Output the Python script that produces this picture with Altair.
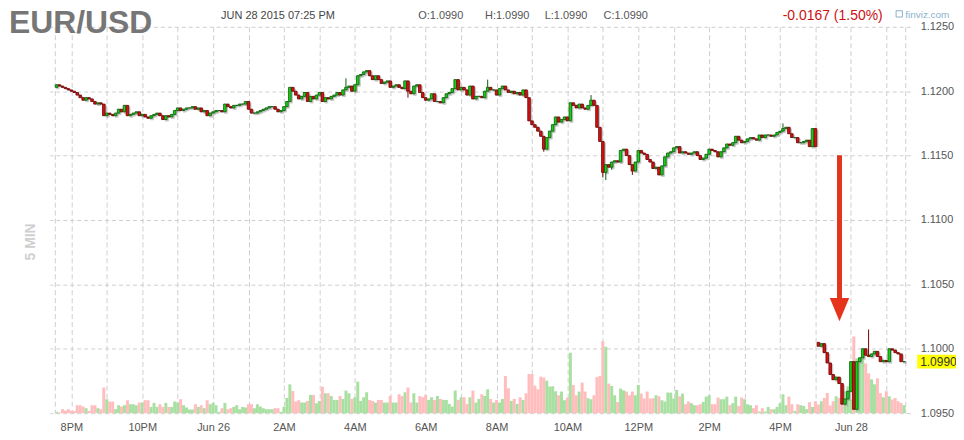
import altair as alt
import pandas as pd

# ---------------- data ----------------
tick_idx = [5, 29, 53, 77, 101, 125, 149, 173, 197, 221, 245, 269]
tick_labels = ["8PM", "10PM", "Jun 26", "2AM", "4AM", "6AM", "8AM", "10AM", "12PM", "2PM", "4PM", "Jun 28"]
grid_idx = [-0.6] + list(range(5, 288, 12)) + [287.4]
price_ticks = [1.0950, 1.1000, 1.1050, 1.1100, 1.1150, 1.1200, 1.1250]

first_open = 1.1203
sunday_open = 1.1005
sunday_start = 258

closes = [
    1.1205, 1.1204, 1.1203, 1.1202, 1.1201, 1.1200, 1.1199, 1.1197, 1.1195, 1.1193, 1.1195, 1.1194,
    1.1192, 1.1190, 1.1191, 1.1190, 1.1181, 1.1183, 1.1182, 1.1181, 1.1183, 1.1186, 1.1184, 1.1189,
    1.1181, 1.1182, 1.1183, 1.1184, 1.1181, 1.1182, 1.1180, 1.1179, 1.1181, 1.1182, 1.1183, 1.1181,
    1.1178, 1.1181, 1.1180, 1.1182, 1.1185, 1.1187, 1.1185, 1.1186, 1.1187, 1.1187, 1.1188, 1.1186,
    1.1187, 1.1184, 1.1185, 1.1181, 1.1183, 1.1184, 1.1185, 1.1185, 1.1184, 1.1190, 1.1188, 1.1187,
    1.1189, 1.1189, 1.1190, 1.1190, 1.1192, 1.1186, 1.1183, 1.1183, 1.1184, 1.1185, 1.1186, 1.1187,
    1.1188, 1.1188, 1.1186, 1.1184, 1.1185, 1.1188, 1.1192, 1.1203, 1.1200, 1.1197, 1.1194, 1.1196,
    1.1199, 1.1192, 1.1196, 1.1194, 1.1197, 1.1199, 1.1192, 1.1195, 1.1194, 1.1196, 1.1197, 1.1199,
    1.1197, 1.1201, 1.1203, 1.1204, 1.1200, 1.1205, 1.1212, 1.1213, 1.1215, 1.1216, 1.1212, 1.1209,
    1.1212, 1.1209, 1.1206, 1.1207, 1.1208, 1.1203, 1.1204, 1.1205, 1.1203, 1.1202, 1.1208, 1.1200,
    1.1198, 1.1204, 1.1205, 1.1199, 1.1195, 1.1193, 1.1194, 1.1198, 1.1192, 1.1192, 1.1191, 1.1195,
    1.1198, 1.1199, 1.1202, 1.1209, 1.1201, 1.1203, 1.1201, 1.1197, 1.1204, 1.1194, 1.1196, 1.1196,
    1.1195, 1.1200, 1.1203, 1.1201, 1.1201, 1.1197, 1.1202, 1.1204, 1.1201, 1.1199, 1.1200, 1.1198,
    1.1199, 1.1197, 1.1201, 1.1195, 1.1177, 1.1174, 1.1172, 1.1169, 1.1165, 1.1155, 1.1164, 1.1169,
    1.1174, 1.1180, 1.1176, 1.1178, 1.1180, 1.1177, 1.1191, 1.1189, 1.1187, 1.1190, 1.1187, 1.1186,
    1.1189, 1.1193, 1.1189, 1.1172, 1.1161, 1.1137, 1.1143, 1.1141, 1.1145, 1.1146, 1.1145, 1.1154,
    1.1155, 1.1150, 1.1143, 1.1138, 1.1145, 1.1154, 1.1152, 1.1151, 1.1147, 1.1145, 1.1140, 1.1141,
    1.1135, 1.1142, 1.1149, 1.1152, 1.1153, 1.1156, 1.1157, 1.1152, 1.1153, 1.1152, 1.1151, 1.1152,
    1.1153, 1.1150, 1.1147, 1.1148, 1.1151, 1.1155, 1.1154, 1.1153, 1.1149, 1.1153, 1.1156, 1.1159,
    1.1158, 1.1160, 1.1165, 1.1162, 1.1160, 1.1161, 1.1163, 1.1164, 1.1163, 1.1162, 1.1166, 1.1164,
    1.1166, 1.1166, 1.1165, 1.1166, 1.1168, 1.1169, 1.1171, 1.1172, 1.1167, 1.1164, 1.1164, 1.1160,
    1.1160, 1.1161, 1.1162, 1.1157, 1.1171, 1.1157, 1.1002, 1.1004, 1.0997, 1.0989, 1.0980, 1.0976,
    1.0978, 1.0973, 1.0957, 1.0961, 1.0967, 1.0990, 1.0953, 1.0990, 1.0993, 1.1000, 1.0995, 1.0994,
    1.0996, 1.0998, 1.0994, 1.0990, 1.0991, 1.0990, 1.1000, 1.0999, 1.0997, 1.0996, 1.0990, 1.0990,
]

volumes = [
    1.3, 0.7, 4, 2.7, 4, 2.3, 2.3, 8, 8, 6.7, 5, 2.3,
    8, 8, 5, 4, 25.7, 14, 11.7, 11.7, 4, 8, 6.7, 8,
    13, 9, 9, 8, 10.7, 10.7, 13, 13, 6.3, 10.3, 6.3, 9,
    6.3, 10.3, 6.3, 6.3, 11.7, 10.7, 14, 8, 5.7, 3.7, 3.7, 9,
    6.3, 8, 5, 13, 9, 10.3, 8, 1.3, 5, 10.3, 4, 5,
    6.3, 8, 4, 6.3, 5.7, 9, 9, 5, 9, 6.7, 5, 4,
    4, 4, 5, 5, 1.3, 6.3, 15.3, 29, 22.3, 11.7, 13, 10.7,
    10.7, 12.3, 18.3, 18.3, 10, 12.3, 26.7, 20, 20, 17.3, 13.3, 13.3,
    17.3, 14.3, 22.7, 20, 14.3, 16, 31.7, 12.3, 16, 21, 13.3, 12.3,
    10.7, 13.3, 13.3, 10.7, 10.7, 17.3, 10.7, 10.7, 19, 17.3, 21, 25.7,
    10.7, 20, 10.7, 17.3, 16, 18.3, 13.3, 16, 13.3, 17.3, 14.3, 13.3,
    13.3, 9.3, 6.7, 22.7, 13.3, 16, 16, 9.3, 16, 22.7, 10.7, 14.3,
    19, 17.3, 24, 14.3, 10.7, 13.3, 10.7, 14.3, 37.3, 25, 12.3, 14.3,
    9.3, 16, 13.3, 20, 39.3, 39.3, 27.7, 24, 36.7, 35.7, 32.7, 26.7,
    27, 22, 18, 21.7, 13, 15.7, 60.7, 28.3, 18, 21.7, 30.7, 21.7,
    15, 14, 18, 36.3, 37.3, 72.3, 66.7, 29.7, 27.3, 18, 11.3, 24.7,
    23, 21.7, 18, 21.7, 18, 28.3, 19.7, 14.7, 21.7, 14.7, 15, 18,
    17, 13, 11.7, 20.7, 20.7, 14.7, 23.3, 17, 19.7, 9, 11.7, 10,
    8, 8, 9, 11.3, 16.7, 18, 9, 9, 15.7, 14, 14, 16.7,
    8, 10, 16.7, 7.3, 15.7, 14, 9, 8, 5, 8, 1.7, 5,
    1.7, 6.3, 4, 4, 6.3, 10, 19, 8, 16.7, 9, 2.3, 9,
    8, 7.3, 4, 11, 6.3, 12, 8.7, 12, 15.3, 20.3, 7.7, 12,
    17, 15.3, 15.3, 22, 27, 14, 77, 55, 52, 57, 50, 40,
    34, 29, 35, 20, 16, 22, 17, 13.7, 15.3, 12, 10.3, 8,
]
vol_scale_max = 388

wick_highs = {98: 1.1210, 146: 1.1209, 181: 1.1197, 246: 1.1175, 275: 1.1015}
wick_lows = {119: 1.1195, 165: 1.1153, 185: 1.1133, 186: 1.1131, 188: 1.1139, 195: 1.1135}

symbol = "EUR/USD"
stamp = "JUN 28 2015 07:25 PM"
ohlc_text = ["O:1.0990", "H:1.0990", "L:1.0990", "C:1.0990"]
change_text = "-0.0167 (1.50%)"
interval_text = "5 MIN"
brand = "finviz.com"

# ---------------- table ----------------
rows = []
for i, c in enumerate(closes):
    if i == 0:
        o = first_open
    elif i == sunday_start:
        o = sunday_open
    else:
        o = closes[i - 1]
    hi = max(o, c, wick_highs.get(i, -1))
    lo = min(o, c, wick_lows.get(i, 9))
    rows.append({"i": i, "open": o, "close": c, "high": hi, "low": lo,
                 "up": c >= o, "vol": volumes[i]})
df = pd.DataFrame(rows)

label_expr = ("indexof(%s, datum.value) >= 0 ? %s[indexof(%s, datum.value)] : ''"
              % (tick_idx, tick_labels, tick_idx))

FONT = "Liberation Sans, Arial, sans-serif"
GREEN, RED = "#16d016", "#d81010"
GREEN_D, RED_D = "#0b5e0b", "#6a0505"

xenc = alt.X("i:Q", scale=alt.Scale(domain=[-0.6, 287.4], nice=False, zero=False),
             axis=alt.Axis(values=grid_idx, labelExpr=label_expr, ticks=False, domain=False,
                           grid=True, gridDash=[5, 3], gridColor="#cfcfcf", labelFont=FONT,
                           labelFontSize=11, labelColor="#555", labelPadding=8, title=None,
                           labelFlush=False, labelOverlap=False))
yscale = alt.Scale(domain=[1.0950, 1.1250], nice=False, zero=False)
yaxis = alt.Axis(orient="right", values=price_ticks, format=".4f", ticks=False, domain=False,
                 grid=True, gridDash=[4, 3], gridColor="#cfcfcf", labelFont=FONT,
                 labelFontSize=11, labelColor="#555", labelPadding=10, title=None)

base = alt.Chart(df)

vol = base.mark_bar(size=3).encode(
    x=xenc,
    y=alt.Y("vol:Q", scale=alt.Scale(domain=[0, vol_scale_max]), axis=None),
    color=alt.condition("datum.up", alt.value("#a8e0a2"), alt.value("#ffbdbd")),
)

shadow = base.mark_bar(size=3, color="#9a9a9a", opacity=0.55, xOffset=1, yOffset=1.5,
                       stroke="#9a9a9a", strokeWidth=1).encode(
    x=xenc, y=alt.Y("open:Q", scale=yscale, axis=yaxis), y2="close:Q")

wick = base.mark_rule(strokeWidth=1).encode(
    x=xenc, y=alt.Y("low:Q", scale=yscale, axis=yaxis), y2="high:Q",
    color=alt.condition("datum.up", alt.value(GREEN_D), alt.value(RED_D)),
)

body = base.mark_bar(size=2.6, strokeWidth=0.8).encode(
    x=xenc, y=alt.Y("open:Q", scale=yscale, axis=yaxis), y2="close:Q",
    fill=alt.condition("datum.up", alt.value(GREEN), alt.value(RED)),
    stroke=alt.condition("datum.up", alt.value(GREEN_D), alt.value(RED_D)),
)

last = base.transform_filter("datum.i == %d" % (len(closes) - 1)).transform_calculate(
    tag_lo="datum.close - 0.00054", tag_hi="datum.close + 0.00054")
tag_box = last.mark_rect(color="#ffff00").encode(
    x=alt.value(871), x2=alt.value(911),
    y=alt.Y("tag_lo:Q", scale=yscale, axis=yaxis), y2="tag_hi:Q")
tag_text = last.mark_text(font=FONT, fontSize=12, color="#333", align="left", baseline="middle").encode(
    x=alt.value(874), y=alt.Y("close:Q", scale=yscale, axis=yaxis),
    text=alt.Text("close:Q", format=".4f"))

price = alt.layer(shadow, wick, body, tag_box, tag_text)

one = pd.DataFrame({"k": [0]})
arrow_shaft = alt.Chart(one).mark_rule(color="#e5331c", strokeWidth=5).encode(
    x=alt.value(793), y=alt.value(129), y2=alt.value(276))
arrow_head = alt.Chart(one).mark_point(shape="M-1,-1.2L1,-1.2L0,1.2Z", size=380, filled=True,
                                       opacity=1, color="#e5331c").encode(
    x=alt.value(793), y=alt.value(284))
brand_icon = alt.Chart(one).mark_point(shape="square", size=40, filled=False, strokeWidth=1,
                                       opacity=1, color="#8ab0cc").encode(
    x=alt.value(853), y=alt.value(-13))


def label(txt, x, y, size, color, weight="normal", align="left", angle=0, baseline="alphabetic"):
    return alt.Chart(pd.DataFrame({"t": [txt]})).mark_text(
        font=FONT, fontSize=size, color=color, fontWeight=weight, align=align,
        baseline=baseline, angle=angle).encode(x=alt.value(x), y=alt.value(y), text="t:N")


texts = [
    label(symbol, -41, 6, 32, "#767676", "bold"),
    label(stamp, 172, -8, 11, "#444"),
    label(ohlc_text[0], 370, -8, 11, "#555"),
    label(ohlc_text[1], 437, -8, 11, "#555"),
    label(ohlc_text[2], 497, -8, 11, "#555"),
    label(ohlc_text[3], 556, -8, 11, "#555"),
    label(change_text, 736, -7, 14, "#cc1111"),
    label(brand, 859, -9, 10, "#8ab0cc"),
    label(interval_text, -19, 216, 14, "#cfcfcf", "bold", "center", 270, "middle"),
]

chart = alt.layer(vol, price, arrow_shaft, arrow_head, brand_icon, *texts).resolve_scale(
    y="independent").properties(
    width=864, height=388,
    autosize=alt.AutoSizeParams(type="none"),
    padding={"left": 42, "top": 18, "right": 46, "bottom": 18},
).configure_view(stroke=None)

chart.save("out.html", embed_options={"renderer": "svg", "actions": False})
